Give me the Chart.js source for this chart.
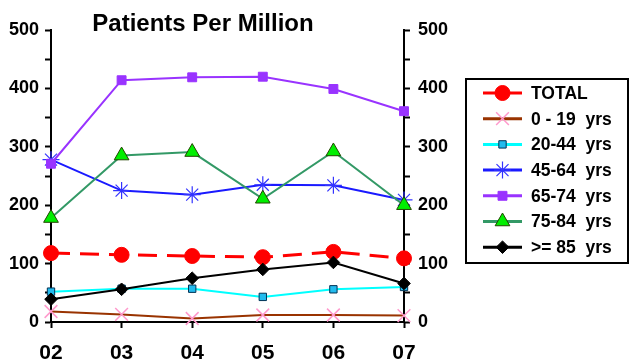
<!DOCTYPE html>
<html>
<head>
<meta charset="utf-8">
<script src="https://cdn.jsdelivr.net/npm/chart.js@4/dist/chart.umd.min.js"></script>
<style>
  html, body { margin: 0; padding: 0; background: #fff; }
  #wrap { width: 630px; height: 363px; position: relative; }
</style>
</head>
<body>
<div id="wrap"><canvas id="c" width="630" height="363"></canvas></div>
<script>
const years = ['02', '03', '04', '05', '06', '07'];
const total   = [118, 115, 113, 111, 120, 109];
const age0_19 = [18, 13, 6, 12, 12, 11];
const age20_44 = [52, 57, 57, 43, 56, 60];
const age45_64 = [278, 225, 218, 235, 234, 209];
const age65_74 = [271, 414, 419, 420, 399, 361];
const age75_84 = [178, 285, 291, 211, 292, 200];
const age85up = [39, 56, 75, 90, 102, 66];
const seriesNames = ['TOTAL', '0 - 19  yrs', '20-44  yrs', '45-64  yrs', '65-74  yrs', '75-84  yrs', '>= 85  yrs'];
const titleText = 'Patients Per Million';

const FONT = '"Liberation Sans", Arial, Helvetica, sans-serif';

function ds(label, data, line, style, fill, border, radius, extra) {
  return Object.assign({
    label, data,
    borderColor: line,
    backgroundColor: fill,
    pointStyle: style,
    pointBackgroundColor: fill,
    pointBorderColor: border,
    pointBorderWidth: 1,
    pointRadius: radius,
    pointHoverRadius: radius,
    borderWidth: 2,
    tension: 0,
    clip: false,
    yAxisID: 'y'
  }, extra || {});
}

const datasets = [
  ds(seriesNames[0], total, '#ff0000', 'circle', '#ff0000', '#ff0000', 7.5, { borderWidth: 3, borderDash: [19, 10] }),
  ds(seriesNames[1], age0_19, '#993300', 'crossRot', '#ff99cc', '#ff99cc', 9, { pointBorderWidth: 1.5 }),
  ds(seriesNames[2], age20_44, '#00ffff', 'rect', '#22bbee', '#003355', 5.2),
  ds(seriesNames[3], age45_64, '#1a1aff', 'star', '#3333ff', '#3333ff', 8.5, { pointBorderWidth: 1.2 }),
  ds(seriesNames[4], age65_74, '#9933ff', 'rect', '#9933ff', '#9933ff', 6.3),
  ds(seriesNames[5], age75_84, '#339966', 'triangle', '#00ee00', '#224400', 8.5),
  ds(seriesNames[6], age85up, '#000000', 'rectRot', '#000000', '#000000', 6.3)
];
// later series are painted above earlier ones
datasets.forEach((d, i) => { d.order = datasets.length - i; });

const titlePlugin = {
  id: 'plotTitle',
  afterDraw(chart) {
    const ctx = chart.ctx;
    ctx.save();
    ctx.font = 'bold 24px ' + FONT;
    ctx.fillStyle = '#000';
    ctx.textAlign = 'center';
    ctx.textBaseline = 'alphabetic';
    ctx.fillText(titleText, 203, 31);
    ctx.restore();
  }
};

const legendPlugin = {
  id: 'boxLegend',
  afterDraw(chart) {
    const ctx = chart.ctx;
    ctx.save();
    ctx.fillStyle = '#fff';
    ctx.fillRect(466, 79, 162, 184);
    ctx.lineWidth = 2;
    ctx.strokeStyle = '#000';
    ctx.strokeRect(466, 79, 162, 184);
    chart.data.datasets.forEach((d, i) => {
      const y = 93 + i * 25.7;
      ctx.save();
      ctx.strokeStyle = d.borderColor;
      ctx.lineWidth = 3;
      ctx.beginPath();
      ctx.moveTo(483, y);
      ctx.lineTo(522, y);
      ctx.stroke();
      ctx.fillStyle = d.pointBackgroundColor;
      ctx.strokeStyle = d.pointBorderColor;
      ctx.lineWidth = d.pointBorderWidth;
      Chart.helpers.drawPoint(ctx, {
        pointStyle: d.pointStyle, radius: d.pointRadius, rotation: 0, borderWidth: d.pointBorderWidth
      }, 502.5, y);
      ctx.restore();
      ctx.font = 'bold 17.5px ' + FONT;
      ctx.fillStyle = '#000';
      ctx.textAlign = 'left';
      ctx.textBaseline = 'middle';
      ctx.fillText(d.label, 531, y + 1);
    });
    ctx.restore();
  }
};

const yTicks = {
  stepSize: 50,
  color: '#000',
  font: { family: FONT, size: 18, weight: 'bold' },
  callback: v => (v % 100 === 0 ? String(v) : '')
};

new Chart(document.getElementById('c'), {
  type: 'line',
  data: { labels: years, datasets },
  options: {
    responsive: false,
    animation: false,
    events: [],
    layout: { padding: { top: 30, right: 176, bottom: 0, left: 0 } },
    plugins: { legend: { display: false }, title: { display: false }, tooltip: { enabled: false } },
    scales: {
      x: {
        offset: false,
        grid: { drawOnChartArea: false, color: '#000', tickLength: 6, tickWidth: 2 },
        border: { color: '#000', width: 2 },
        ticks: { color: '#000', padding: 13, maxRotation: 0, font: { family: FONT, size: 21, weight: 'bold' } },
        afterFit(s) { s.height = 41; }
      },
      y: {
        position: 'left',
        min: 0, max: 500,
        grid: { drawOnChartArea: false, color: '#000', tickLength: 6, tickWidth: 2 },
        border: { color: '#000', width: 2 },
        ticks: Object.assign({ padding: 6 }, yTicks),
        afterFit(s) { s.width = 51; }
      },
      y2: {
        position: 'right',
        min: 0, max: 500,
        grid: { drawOnChartArea: false, color: '#000', tickLength: 6, tickWidth: 2 },
        border: { color: '#000', width: 2 },
        ticks: Object.assign({ padding: 8 }, yTicks),
        afterFit(s) { s.width = 50; }
      }
    }
  },
  plugins: [titlePlugin, legendPlugin]
});
</script>
</body>
</html>
